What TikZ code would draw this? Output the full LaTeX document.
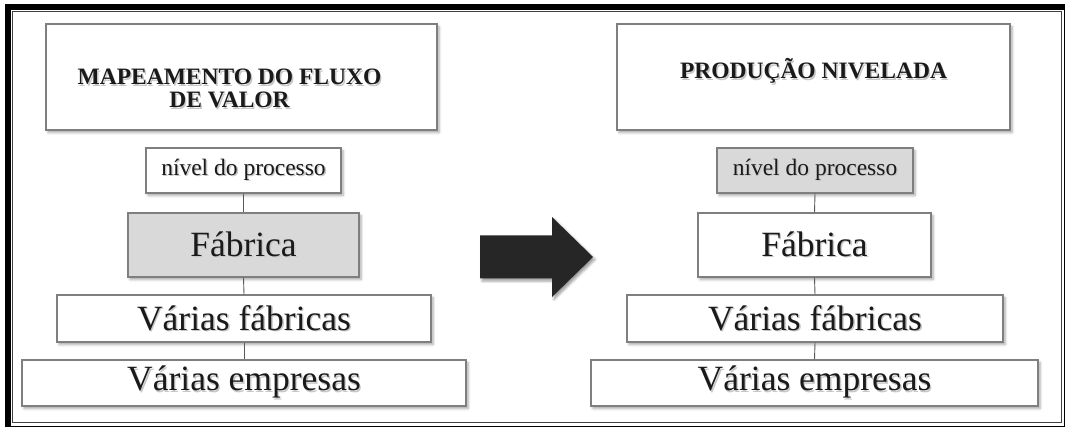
\documentclass[tikz,border=0pt]{standalone}
\usepackage{fontspec}
\setmainfont{Liberation Serif}
\usetikzlibrary{shadows.blur}

\definecolor{boxline}{HTML}{7F7F7F}
\definecolor{boxgray}{HTML}{D9D9D9}
\definecolor{arrowfill}{HTML}{262626}
\definecolor{inktext}{HTML}{1A1A1A}
\definecolor{linkline}{HTML}{595959}

% text with a soft grey copy behind it
\newcommand{\shadowed}[1]{\makebox[0pt][l]{\hspace{1.4pt}\raisebox{-1.4pt}{\textcolor{black!22}{#1}}}#1}

\begin{document}
\begin{tikzpicture}[x=1pt,y=-1pt,
  box/.style={draw=boxline, line width=1.2pt, fill=white, rectangle, inner sep=0pt,
    text=inktext,
    blur shadow={shadow xshift=2pt, shadow yshift=-2.5pt, shadow blur radius=2.5pt, shadow opacity=35}},
  graybox/.style={box, fill=boxgray},
  titlebox/.style={box, minimum height=106pt},
  titletext/.style={text=inktext, align=center, font=\bfseries\fontsize{23.5pt}{23pt}\selectfont},
  small/.style={font=\fontsize{23.5pt}{24pt}\selectfont, minimum height=45pt},
  big/.style={font=\fontsize{35.5pt}{38pt}\selectfont},
  link/.style={draw=linkline, line width=0.9pt}
]
\useasboundingbox (0,0) rectangle (1067,427);

% page frame: heavy band on top and left, thin lines round it
\fill[black] (5,4) rectangle (1064,10);
\fill[black] (5,4) rectangle (11,426);
\draw[black, line width=0.8pt] (5,4) rectangle (1064,426);
\draw[black!75, line width=0.8pt] (12.5,11.5) rectangle (1061,422);

% left column
\node[titlebox, minimum width=391pt,
  label={[titletext, xshift=-12pt, yshift=-12.5pt]center:{\shadowed{MAPEAMENTO DO FLUXO}\\\shadowed{DE VALOR}}}]
  (titleL) at (241.5,77) {};
\node[box, small, minimum width=195pt] (nivL) at (243.5,170.5) {\raisebox{-1.5pt}{\shadowed{nível do processo}}};
\node[graybox, big, minimum width=231pt, minimum height=64pt] (fabL) at (243.5,245) {\shadowed{Fábrica}};
\node[box, big, minimum width=374pt, minimum height=47pt] (vfabL) at (244,318.5) {\shadowed{Várias fábricas}};
\node[box, big, minimum width=444pt, minimum height=46pt] (vempL) at (244,383) {\shadowed{Várias empresas}};

\draw[link] (nivL.south) -- (fabL.north);
\draw[link] (fabL.south) -- (vfabL.north);
\draw[link] (vfabL.south) -- (vempL.north);

% right column
\node[titlebox, minimum width=393pt,
  label={[titletext, yshift=5pt]center:{\shadowed{PRODUÇÃO NIVELADA}}}]
  (titleR) at (813.5,77) {};
\node[graybox, small, minimum width=196pt] (nivR) at (815,170.5) {\raisebox{-1.5pt}{\shadowed{nível do processo}}};
\node[box, big, minimum width=233pt, minimum height=64pt] (fabR) at (814.5,245) {\shadowed{Fábrica}};
\node[box, big, minimum width=376pt, minimum height=47pt] (vfabR) at (815,318.5) {\shadowed{Várias fábricas}};
\node[box, big, minimum width=447pt, minimum height=46pt] (vempR) at (814.5,383) {\shadowed{Várias empresas}};

\draw[link] (nivR.south) -- (fabR.north);
\draw[link] (fabR.south) -- (vfabR.north);
\draw[link] (vfabR.south) -- (vempR.north);

% block arrow between the two columns
\fill[arrowfill, blur shadow={shadow xshift=2pt, shadow yshift=-2.5pt, shadow blur radius=2.5pt, shadow opacity=40}]
  (480,235.5) -- (552,235.5) -- (552,217) -- (593,257) -- (552,297) -- (552,278.5) -- (480,278.5) -- cycle;
\end{tikzpicture}
\end{document}
